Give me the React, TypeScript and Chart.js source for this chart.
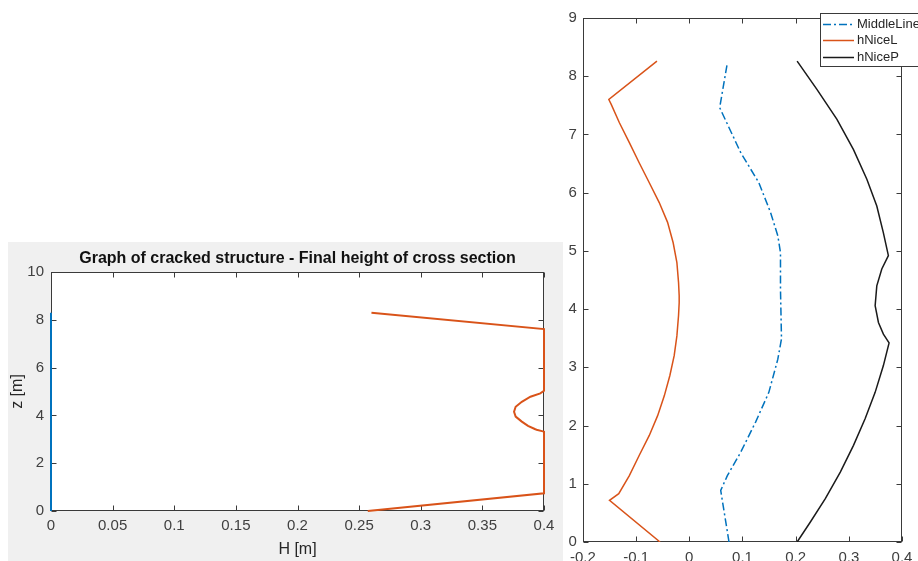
import React, { useEffect, useRef } from "react";
import { Chart, registerables } from "chart.js";

Chart.register(...registerables);

// ---------- Left chart data ----------
const leftTitle = "Graph of cracked structure - Final height of cross section";
const leftXLabel = "H [m]";
const leftYLabel = "z [m]";
const leftXTicks = [0, 0.05, 0.1, 0.15, 0.2, 0.25, 0.3, 0.35, 0.4];
const leftYTicks = [0, 2, 4, 6, 8, 10];
const leftBlueH = [0, 0];
const leftBlueZ = [0, 8.3];
const leftOrangeH = [0.257, 0.4, 0.4, 0.394, 0.392, 0.393, 0.387, 0.382, 0.377, 0.3757, 0.377, 0.382, 0.389, 0.397, 0.4, 0.4, 0.26];
const leftOrangeZ = [0, 0.74, 3.32, 3.4, 3.44, 3.42, 3.56, 3.74, 3.95, 4.15, 4.36, 4.57, 4.78, 4.92, 5.03, 7.61, 8.29];

// ---------- Right chart data ----------
const rightXTicks = [-0.2, -0.1, 0, 0.1, 0.2, 0.3, 0.4];
const rightYTicks = [0, 1, 2, 3, 4, 5, 6, 7, 8, 9];
const seriesNames = ["MiddleLine", "hNiceL", "hNiceP"];
const middleX = [0.0747, 0.0591, 0.0716, 0.0966, 0.1247, 0.1496, 0.1665, 0.1734, 0.1715, 0.1715, 0.1665, 0.1528, 0.1309, 0.0966, 0.0572, 0.0716];
const middleZ = [0, 0.886, 1.14, 1.54, 2.06, 2.57, 3.14, 3.49, 4.34, 4.97, 5.26, 5.66, 6.17, 6.69, 7.46, 8.23];
const niceLX = [-0.055, -0.15, -0.1326, -0.1127, -0.094, -0.0752, -0.0595, -0.047, -0.0365, -0.0284, -0.0233, -0.0202, -0.019, -0.019, -0.0202, -0.0233, -0.0303, -0.0408, -0.0565, -0.0752, -0.094, -0.1127, -0.1314, -0.147, -0.1513, -0.0608];
const niceLZ = [0, 0.715, 0.83, 1.14, 1.49, 1.83, 2.17, 2.51, 2.86, 3.2, 3.54, 3.89, 4.11, 4.23, 4.46, 4.8, 5.14, 5.49, 5.83, 6.17, 6.51, 6.86, 7.2, 7.52, 7.6, 8.26];
const nicePX = [0.2028, 0.2277, 0.2558, 0.284, 0.3088, 0.3308, 0.3495, 0.365, 0.3757, 0.365, 0.3557, 0.3495, 0.3526, 0.362, 0.3744, 0.365, 0.3526, 0.3339, 0.3088, 0.2777, 0.2403, 0.2028];
const nicePZ = [0, 0.343, 0.744, 1.2, 1.66, 2.12, 2.57, 3.03, 3.42, 3.57, 3.77, 4.06, 4.4, 4.69, 4.92, 5.31, 5.77, 6.23, 6.74, 7.26, 7.77, 8.26];

const BLUE = "#0072BD";
const ORANGE = "#D95319";
const DARK = "#1a1a1a";
const AXIS = "#3a3a3a";
const TEXT = "#404040";
const FONT = "'Liberation Sans', Arial, Helvetica, sans-serif";

const pts = (xs: number[], ys: number[]) => xs.map((x, i) => ({ x, y: ys[i] }));
const fmt = (v: number | string) => String(Math.round(Number(v) * 1000) / 1000);

const bgPlugin = {
  id: "bg",
  beforeDraw(chart: any, _a: any, opts: any) {
    const { ctx, chartArea: a, width, height } = chart;
    ctx.save();
    ctx.fillStyle = opts.outer;
    ctx.fillRect(0, 0, width, height);
    ctx.fillStyle = "#ffffff";
    ctx.fillRect(a.left, a.top, a.right - a.left, a.bottom - a.top);
    ctx.restore();
  },
};

const boxPlugin = {
  id: "box",
  beforeDatasetsDraw(chart: any, _a: any, opts: any) {
    const { ctx, chartArea: a, scales } = chart;
    const L = opts.tickLen;
    ctx.save();
    ctx.strokeStyle = AXIS;
    ctx.lineWidth = 1;
    const l = Math.round(a.left) + 0.5;
    const r = Math.round(a.right) - 0.5;
    const t = Math.round(a.top) + 0.5;
    const b = Math.round(a.bottom) - 0.5;
    ctx.strokeRect(l, t, r - l, b - t);
    ctx.beginPath();
    scales.x.ticks.forEach((tk: any) => {
      const px = Math.round(scales.x.getPixelForValue(tk.value)) + 0.5;
      ctx.moveTo(px, b);
      ctx.lineTo(px, b - L);
      ctx.moveTo(px, t);
      ctx.lineTo(px, t + L);
    });
    scales.y.ticks.forEach((tk: any) => {
      const py = Math.round(scales.y.getPixelForValue(tk.value)) + 0.5;
      ctx.moveTo(l, py);
      ctx.lineTo(l + L, py);
      ctx.moveTo(r, py);
      ctx.lineTo(r - L, py);
    });
    ctx.stroke();
    ctx.restore();
  },
};

const legendPlugin = {
  id: "mlegend",
  afterDraw(chart: any, _a: any, opts: any) {
    const { ctx } = chart;
    const { left, top, width, height, rowGap, sample, font } = opts;
    ctx.save();
    ctx.fillStyle = "#ffffff";
    ctx.fillRect(left, top, width, height);
    ctx.strokeStyle = AXIS;
    ctx.lineWidth = 1;
    ctx.strokeRect(Math.round(left) + 0.5, Math.round(top) + 0.5, width, height);
    ctx.font = font;
    ctx.textBaseline = "middle";
    ctx.textAlign = "left";
    chart.data.datasets.forEach((ds: any, i: number) => {
      const y = Math.round(top + 10.5 + i * rowGap) + 0.5;
      ctx.strokeStyle = ds.borderColor;
      ctx.lineWidth = ds.borderWidth;
      ctx.setLineDash(ds.borderDash || []);
      ctx.beginPath();
      ctx.moveTo(left + 3, y);
      ctx.lineTo(left + 3 + sample, y);
      ctx.stroke();
      ctx.setLineDash([]);
      ctx.fillStyle = "#262626";
      ctx.fillText(ds.label, left + sample + 6, y);
    });
    ctx.restore();
  },
};

function LeftChart() {
  const ref = useRef<HTMLCanvasElement>(null);
  useEffect(() => {
    if (!ref.current) return;
    const chart = new Chart(ref.current, {
      type: "scatter",
      data: {
        datasets: [
          { label: "H", data: pts(leftBlueH, leftBlueZ), borderColor: BLUE, backgroundColor: BLUE, borderWidth: 2, showLine: true, pointRadius: 0, clip: false } as any,
          { label: "Hfinal", data: pts(leftOrangeH, leftOrangeZ), borderColor: ORANGE, backgroundColor: ORANGE, borderWidth: 2, showLine: true, pointRadius: 0, clip: false } as any,
        ],
      },
      options: {
        responsive: false,
        animation: false,
        devicePixelRatio: 1,
        events: [],
        layout: { padding: { left: 0, right: 19, top: 0, bottom: 0 } },
        plugins: {
          legend: { display: false },
          tooltip: { enabled: false },
          title: {
            display: true,
            text: leftTitle,
            fullSize: false,
            color: "#111111",
            font: { family: FONT, size: 16, weight: "bold" },
            padding: { top: 7.4, bottom: 3.4 },
          },
          bg: { outer: "#f0f0f0" },
          box: { tickLen: 5 },
        } as any,
        scales: {
          x: {
            type: "linear",
            min: 0,
            max: 0.4,
            afterBuildTicks: (s: any) => { s.ticks = leftXTicks.map((v) => ({ value: v })); },
            afterFit: (s: any) => { s.height = 50; },
            ticks: { font: { family: FONT, size: 15 }, color: TEXT, padding: 6, maxRotation: 0, autoSkip: false, callback: fmt },
            grid: { display: false, drawTicks: false },
            border: { display: false },
            title: { display: true, text: leftXLabel, color: "#262626", font: { family: FONT, size: 16 }, padding: { top: 0, bottom: 2 } },
          },
          y: {
            type: "linear",
            min: 0,
            max: 10,
            afterBuildTicks: (s: any) => { s.ticks = leftYTicks.map((v) => ({ value: v })); },
            afterFit: (s: any) => { s.width = 43; },
            ticks: { font: { family: FONT, size: 15 }, color: TEXT, padding: 7, autoSkip: false, callback: fmt },
            grid: { display: false, drawTicks: false },
            border: { display: false },
            title: { display: true, text: leftYLabel, color: "#262626", font: { family: FONT, size: 16 }, padding: { top: 0, bottom: 0 } },
          },
        },
      } as any,
      plugins: [bgPlugin, boxPlugin],
    });
    return () => chart.destroy();
  }, []);
  return <canvas ref={ref} width={555} height={319} style={{ position: "absolute", left: 8, top: 242 }} />;
}

function RightChart() {
  const ref = useRef<HTMLCanvasElement>(null);
  useEffect(() => {
    if (!ref.current) return;
    const chart = new Chart(ref.current, {
      type: "scatter",
      data: {
        datasets: [
          { label: seriesNames[0], data: pts(middleX, middleZ), borderColor: BLUE, backgroundColor: BLUE, borderWidth: 1.5, borderDash: [8, 3, 2, 3], showLine: true, pointRadius: 0 } as any,
          { label: seriesNames[1], data: pts(niceLX, niceLZ), borderColor: ORANGE, backgroundColor: ORANGE, borderWidth: 1.5, showLine: true, pointRadius: 0 } as any,
          { label: seriesNames[2], data: pts(nicePX, nicePZ), borderColor: DARK, backgroundColor: DARK, borderWidth: 1.5, showLine: true, pointRadius: 0 } as any,
        ],
      },
      options: {
        responsive: false,
        animation: false,
        devicePixelRatio: 1,
        events: [],
        layout: { padding: { left: 0, right: 61, top: 18, bottom: 0 } },
        plugins: {
          legend: { display: false },
          tooltip: { enabled: false },
          title: { display: false },
          bg: { outer: "#ffffff" },
          box: { tickLen: 5 },
          mlegend: { left: 257, top: 13, width: 120, height: 53, rowGap: 16.8, sample: 31, font: `13px ${FONT}` },
        } as any,
        scales: {
          x: {
            type: "linear",
            min: -0.2,
            max: 0.4,
            afterBuildTicks: (s: any) => { s.ticks = rightXTicks.map((v) => ({ value: v })); },
            afterFit: (s: any) => { s.height = 58; },
            ticks: { font: { family: FONT, size: 15 }, color: TEXT, padding: 7, maxRotation: 0, autoSkip: false, callback: fmt },
            grid: { display: false, drawTicks: false },
            border: { display: false },
          },
          y: {
            type: "linear",
            min: 0,
            max: 9,
            afterBuildTicks: (s: any) => { s.ticks = rightYTicks.map((v) => ({ value: v })); },
            afterFit: (s: any) => { s.width = 19; },
            ticks: { font: { family: FONT, size: 15 }, color: TEXT, padding: 6, autoSkip: false, callback: fmt },
            grid: { display: false, drawTicks: false },
            border: { display: false },
          },
        },
      } as any,
      plugins: [bgPlugin, boxPlugin, legendPlugin],
    });
    return () => chart.destroy();
  }, []);
  return <canvas ref={ref} width={400} height={600} style={{ position: "absolute", left: 563, top: 0 }} />;
}

export default function App() {
  return (
    <div style={{ position: "fixed", left: 0, top: 0, width: 918, height: 561, overflow: "hidden", background: "#ffffff" }}>
      <LeftChart />
      <RightChart />
    </div>
  );
}
